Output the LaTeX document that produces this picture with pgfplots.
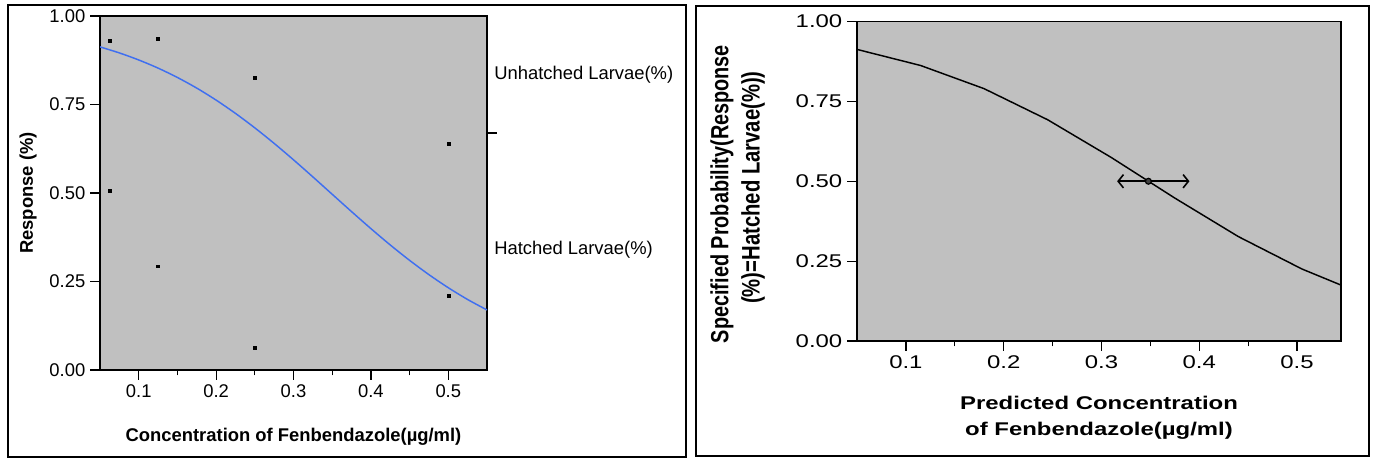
\documentclass[border=0pt]{standalone}
\usepackage{pgfplots}
\pgfplotsset{compat=1.18}
\usetikzlibrary{arrows.meta}
\usepackage{fontspec}
\setmainfont{Liberation Sans}
\newfontfamily\widefont[FakeStretch=1.3]{Liberation Sans}
\definecolor{plotgray}{HTML}{C0C0C0}
\definecolor{curveblue}{HTML}{3F6FF0}
\begin{document}
\begin{tikzpicture}
\useasboundingbox (0,0) rectangle (1032pt,344.25pt);
\draw[line width=1.2pt] (6pt,1.5pt) rectangle (514.5pt,340.5pt);
\draw[line width=1.2pt] (522pt,2.25pt) rectangle (1026.75pt,339.75pt);
% ---------------- left panel
\begin{axis}[
  at={(75pt,66.75pt)}, anchor=south west,
  scale only axis, width=290.25pt, height=265.5pt,
  xmin=0.05, xmax=0.55, ymin=0, ymax=1,
  axis background/.style={fill=plotgray},
  axis line style={line width=0.9pt},
  xtick={0.1,0.2,0.3,0.4,0.5},
  minor xtick={0.15,0.25,0.35,0.45},
  ytick={0,0.25,0.5,0.75,1},
  tick align=outside, xtick pos=bottom, ytick pos=left,
  major tick length=7.5pt, minor tick length=4pt,
  tick style={black, line width=0.9pt},
  /pgf/number format/assume math mode=true,
  yticklabel style={/pgf/number format/fixed, /pgf/number format/fixed zerofill, /pgf/number format/precision=2},
  xticklabel style={/pgf/number format/fixed, /pgf/number format/precision=1},
  ticklabel style={font=\fontsize{13.8}{16}\selectfont},
  clip=true,
]
\addplot[curveblue, line width=1.1pt, smooth] coordinates {
(0.05,0.9127) (0.075,0.8957) (0.1,0.8758) (0.125,0.8528) (0.15,0.8263)
(0.175,0.7963) (0.2,0.7624) (0.225,0.7249) (0.25,0.684) (0.275,0.6401)
(0.3,0.5937) (0.325,0.5455) (0.35,0.4964) (0.375,0.4474) (0.4,0.3994)
(0.425,0.3532) (0.45,0.3097) (0.475,0.2693) (0.5,0.2324) (0.525,0.1991)
(0.55,0.1696) };
\addplot[only marks, mark=square*, mark size=1.1pt, black] coordinates {
(0.0625,0.93) (0.0625,0.505) (0.125,0.936) (0.125,0.293)
(0.25,0.826) (0.25,0.062) (0.5,0.64) (0.5,0.211) };
\end{axis}
\draw[line width=0.9pt] (365.25pt,244.5pt) -- (372.75pt,244.5pt);
\node[anchor=west, inner sep=0, font=\fontsize{13.8}{16}\selectfont] at (370.5pt,288pt) {Unhatched Larvae(\%)};
\node[anchor=west, inner sep=0, font=\fontsize{13.8}{16}\selectfont] at (370.5pt,156.75pt) {Hatched Larvae(\%)};
\node[font=\bfseries\fontsize{13.8}{16}\selectfont] at (220.1pt,16.5pt) {Concentration of Fenbendazole(µg/ml)};
\node[rotate=90, font=\bfseries\fontsize{13.8}{16}\selectfont] at (21pt,199.5pt) {Response (\%)};
% ---------------- right panel
\begin{axis}[
  at={(642.75pt,88.5pt)}, anchor=south west,
  scale only axis, width=363pt, height=239.6pt,
  xmin=0.05, xmax=0.545, ymin=0, ymax=1,
  axis background/.style={fill=plotgray},
  axis line style={line width=0.9pt},
  xtick={0.1,0.2,0.3,0.4,0.5},
  minor xtick={0.15,0.25,0.35,0.45},
  ytick={0,0.25,0.5,0.75,1},
  tick align=outside, xtick pos=bottom, ytick pos=left,
  major tick length=7.5pt, minor tick length=4pt,
  tick style={black, line width=0.9pt},
  /pgf/number format/assume math mode=true,
  yticklabel style={/pgf/number format/fixed, /pgf/number format/fixed zerofill, /pgf/number format/precision=2},
  xticklabel style={/pgf/number format/fixed, /pgf/number format/precision=1},
  ticklabel style={font=\widefont\fontsize{13.8}{16}\selectfont},
]
\addplot[black, line width=1.1pt] coordinates {
(0.05,0.9127) (0.115,0.8624) (0.18,0.7898) (0.245,0.6925) (0.31,0.5745)
(0.375,0.4474) (0.44,0.3268) (0.505,0.2254) (0.545,0.175) };
\addplot[black, line width=1.2pt, {Straight Barb[length=4pt,width=10pt]}-{Straight Barb[length=4pt,width=10pt]}] coordinates {(0.316,0.5) (0.39,0.5)};
\addplot[only marks, mark=*, mark size=2.2pt, black, mark options={fill=darkgray, line width=0.9pt}] coordinates {(0.348,0.5)};
\end{axis}
\node[font=\widefont\bfseries\fontsize{13.8}{16}\selectfont] at (824.25pt,42pt) {Predicted Concentration};
\node[font=\widefont\bfseries\fontsize{13.8}{16}\selectfont] at (824.25pt,21pt) {of Fenbendazole(µg/ml)};
\node[xscale=1.25, rotate=90, font=\bfseries\fontsize{14.9}{16}\selectfont] at (541.5pt,198.75pt) {Specified Probability(Response};
\node[xscale=1.25, rotate=90, font=\bfseries\fontsize{15.2}{16}\selectfont] at (564.75pt,203.6pt) {(\%)=Hatched Larvae(\%))};
\end{tikzpicture}
\end{document}
